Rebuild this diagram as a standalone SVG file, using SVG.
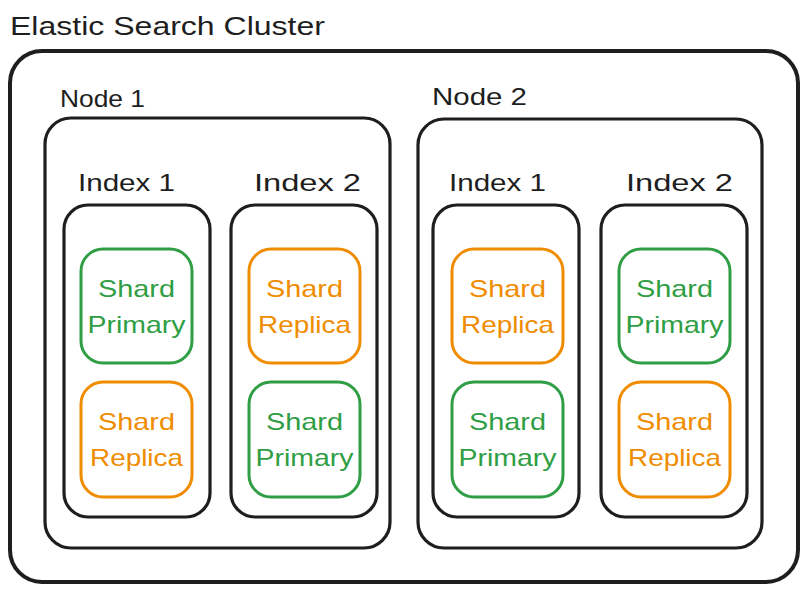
<svg xmlns="http://www.w3.org/2000/svg" width="807" height="592" viewBox="0 0 807 592">
<style>
  text { font-family: "Liberation Sans", "Noto Sans", sans-serif; }
  .title { font-size: 26px; fill: #1e1e1e; }
  .lbl { font-size: 24px; fill: #1e1e1e; }
  .box { fill: none; stroke: #1e1e1e; stroke-width: 3.2; }
  .outer { fill: none; stroke: #1e1e1e; stroke-width: 4; }
  .green rect { fill: none; stroke: #2f9e44; stroke-width: 3; }
  .green text { fill: #2f9e44; font-size: 24px; text-anchor: middle; }
  .orange rect { fill: none; stroke: #f08c00; stroke-width: 3; }
  .orange text { fill: #f08c00; font-size: 24px; text-anchor: middle; }
</style>
<rect width="807" height="592" fill="#ffffff"/>
<g id="cluster">
  <text class="title" x="10" y="35" textLength="315" lengthAdjust="spacingAndGlyphs">Elastic Search Cluster</text>
  <rect class="outer" x="10" y="51" width="788" height="531" rx="32"/>
</g>
<g id="node1">
  <text class="lbl" x="60" y="107" textLength="85" lengthAdjust="spacingAndGlyphs">Node 1</text>
  <rect class="box" x="45" y="118" width="345" height="430" rx="26"/>
</g>
<g id="node2">
  <text class="lbl" x="432" y="105" textLength="95" lengthAdjust="spacingAndGlyphs">Node 2</text>
  <rect class="box" x="418" y="119" width="344" height="429" rx="26"/>
</g>
<g id="n1-index1">
  <text class="lbl" x="78" y="191" textLength="97" lengthAdjust="spacingAndGlyphs">Index 1</text>
  <rect class="box" x="64" y="205" width="146" height="312" rx="24"/>
</g>
<g id="n1-index2">
  <text class="lbl" x="254" y="191" textLength="107" lengthAdjust="spacingAndGlyphs">Index 2</text>
  <rect class="box" x="231" y="205" width="146" height="312" rx="24"/>
</g>
<g id="n2-index1">
  <text class="lbl" x="449" y="191" textLength="97" lengthAdjust="spacingAndGlyphs">Index 1</text>
  <rect class="box" x="433" y="205" width="146" height="312" rx="24"/>
</g>
<g id="n2-index2">
  <text class="lbl" x="626" y="191" textLength="107" lengthAdjust="spacingAndGlyphs">Index 2</text>
  <rect class="box" x="601" y="205" width="146" height="312" rx="24"/>
</g>
<g id="s1" class="green">
  <rect x="81" y="249" width="111" height="114" rx="22"/>
  <text x="136.5" y="297" textLength="77" lengthAdjust="spacingAndGlyphs">Shard</text>
  <text x="136.5" y="333" textLength="98" lengthAdjust="spacingAndGlyphs">Primary</text>
</g>
<g id="s2" class="orange">
  <rect x="81" y="382" width="111" height="115" rx="22"/>
  <text x="136.5" y="430" textLength="77" lengthAdjust="spacingAndGlyphs">Shard</text>
  <text x="136.5" y="466" textLength="93" lengthAdjust="spacingAndGlyphs">Replica</text>
</g>
<g id="s3" class="orange">
  <rect x="249" y="249" width="111" height="114" rx="22"/>
  <text x="304.5" y="297" textLength="77" lengthAdjust="spacingAndGlyphs">Shard</text>
  <text x="304.5" y="333" textLength="93" lengthAdjust="spacingAndGlyphs">Replica</text>
</g>
<g id="s4" class="green">
  <rect x="249" y="382" width="111" height="115" rx="22"/>
  <text x="304.5" y="430" textLength="77" lengthAdjust="spacingAndGlyphs">Shard</text>
  <text x="304.5" y="466" textLength="98" lengthAdjust="spacingAndGlyphs">Primary</text>
</g>
<g id="s5" class="orange">
  <rect x="452" y="249" width="111" height="114" rx="22"/>
  <text x="507.5" y="297" textLength="77" lengthAdjust="spacingAndGlyphs">Shard</text>
  <text x="507.5" y="333" textLength="93" lengthAdjust="spacingAndGlyphs">Replica</text>
</g>
<g id="s6" class="green">
  <rect x="452" y="382" width="111" height="115" rx="22"/>
  <text x="507.5" y="430" textLength="77" lengthAdjust="spacingAndGlyphs">Shard</text>
  <text x="507.5" y="466" textLength="98" lengthAdjust="spacingAndGlyphs">Primary</text>
</g>
<g id="s7" class="green">
  <rect x="619" y="249" width="111" height="114" rx="22"/>
  <text x="674.5" y="297" textLength="77" lengthAdjust="spacingAndGlyphs">Shard</text>
  <text x="674.5" y="333" textLength="98" lengthAdjust="spacingAndGlyphs">Primary</text>
</g>
<g id="s8" class="orange">
  <rect x="619" y="382" width="111" height="115" rx="22"/>
  <text x="674.5" y="430" textLength="77" lengthAdjust="spacingAndGlyphs">Shard</text>
  <text x="674.5" y="466" textLength="93" lengthAdjust="spacingAndGlyphs">Replica</text>
</g>
<g id="connectors"></g>
</svg>
